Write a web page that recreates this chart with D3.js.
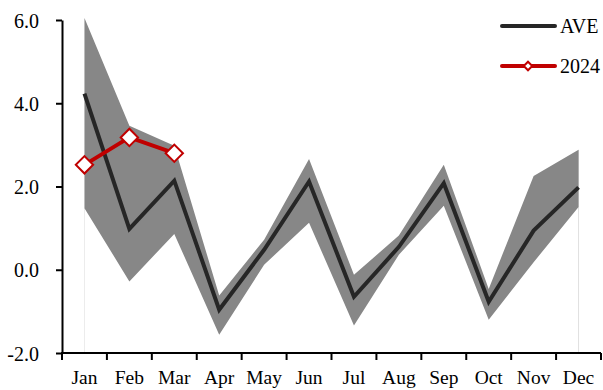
<!DOCTYPE html>
<html>
<head>
<meta charset="utf-8">
<script src="https://cdn.jsdelivr.net/npm/d3@7"></script>
<style>
  html, body { margin: 0; padding: 0; background: #fff; }
  svg, svg text { font-family: "Liberation Serif", "Times New Roman", serif; }
  svg { display: block; }
</style>
</head>
<body>
<svg id="chart" width="603" height="390"></svg>
<script>
// Monthly values: long-term average, min–max envelope, and 2024 to date
const months = ["Jan","Feb","Mar","Apr","May","Jun","Jul","Aug","Sep","Oct","Nov","Dec"];
const aveValues = [4.23, 0.98, 2.14, -0.96, 0.48, 2.12, -0.65, 0.55, 2.08, -0.77, 0.94, 1.98];
const maxValues = [6.05, 3.46, 2.98, -0.62, 0.72, 2.66, -0.12, 0.82, 2.52, -0.46, 2.25, 2.88];
const minValues = [1.48, -0.28, 0.86, -1.56, 0.12, 1.13, -1.34, 0.36, 1.54, -1.20, 0.18, 1.51];
const values2024 = [2.52, 3.18, 2.80];
const yTicks = [-2, 0, 2, 4, 6];

const svg = d3.select("#chart");
const plotLeft = 62, plotRight = 601, plotTop = 20, plotBottom = 353;
const serif = '"Liberation Serif", "Times New Roman", serif';

const x = d3.scaleBand().domain(months).range([plotLeft, plotRight]).paddingInner(0).paddingOuter(0);
const y = d3.scaleLinear().domain([-2, 6]).range([plotBottom, plotTop]);
const cx = m => x(m) + x.bandwidth() / 2;

// faint drop lines at the ends of the envelope
svg.append("line")
  .attr("x1", cx("Jan")).attr("x2", cx("Jan"))
  .attr("y1", y(minValues[0])).attr("y2", y(-2))
  .attr("stroke", "#ececec").attr("stroke-width", 1);
svg.append("line")
  .attr("x1", cx("Dec")).attr("x2", cx("Dec"))
  .attr("y1", y(maxValues[11])).attr("y2", y(-2))
  .attr("stroke", "#e0e0e0").attr("stroke-width", 1);

// min–max envelope
const band = months.map((m, i) => ({ m, lo: minValues[i], hi: maxValues[i] }));
svg.append("path")
  .datum(band)
  .attr("fill", "#878787")
  .attr("d", d3.area().x(d => cx(d.m)).y0(d => y(d.lo)).y1(d => y(d.hi)));

// average line
svg.append("path")
  .datum(months.map((m, i) => ({ m, v: aveValues[i] })))
  .attr("fill", "none")
  .attr("stroke", "#262626")
  .attr("stroke-width", 4)
  .attr("stroke-linejoin", "miter")
  .attr("d", d3.line().x(d => cx(d.m)).y(d => y(d.v)));

// 2024 line with diamond markers
const cur = values2024.map((v, i) => ({ m: months[i], v }));
svg.append("path")
  .datum(cur)
  .attr("fill", "none")
  .attr("stroke", "#c00000")
  .attr("stroke-width", 4)
  .attr("d", d3.line().x(d => cx(d.m)).y(d => y(d.v)));

svg.selectAll(".mk")
  .data(cur)
  .join("path")
  .attr("class", "mk")
  .attr("transform", d => `translate(${cx(d.m)},${y(d.v)}) rotate(45)`)
  .attr("d", d3.symbol().type(d3.symbolSquare).size(150))
  .attr("fill", "#fff")
  .attr("stroke", "#c00000")
  .attr("stroke-width", 2);

// axes
const yAxis = svg.append("g")
  .attr("transform", `translate(${plotLeft},0)`)
  .call(d3.axisLeft(y).tickValues(yTicks).tickSize(6).tickSizeOuter(0).tickFormat(d => d.toFixed(1)))
  .attr("font-family", serif)
  .attr("font-size", 20);
yAxis.select(".domain").attr("stroke", "#000").attr("stroke-width", 2);
yAxis.selectAll(".tick line").attr("stroke", "#000").attr("stroke-width", 2);
yAxis.selectAll(".tick text")
  .attr("x", -23)
  .attr("dy", "0.36em")
  .attr("fill", "#000");

const xAxis = svg.append("g")
  .attr("transform", `translate(0,${plotBottom})`)
  .attr("font-family", serif)
  .attr("font-size", 19.5);
xAxis.append("line")
  .attr("x1", plotLeft - 1).attr("x2", plotRight)
  .attr("stroke", "#000").attr("stroke-width", 2);
const bounds = months.map(m => x(m)).concat([plotRight]);
xAxis.selectAll(".xt")
  .data(bounds)
  .join("line")
  .attr("class", "xt")
  .attr("x1", d => d).attr("x2", d => d)
  .attr("y1", 0).attr("y2", 7)
  .attr("stroke", "#000").attr("stroke-width", 2);
xAxis.selectAll(".xl")
  .data(months)
  .join("text")
  .attr("class", "xl")
  .attr("x", d => cx(d))
  .attr("y", 31)
  .attr("text-anchor", "middle")
  .attr("fill", "#000")
  .text(d => d);

// legend
const legend = svg.append("g")
  .attr("font-family", serif)
  .attr("font-size", 20);
const legendItems = [
  { label: "AVE", color: "#262626", marker: false, yPos: 26 },
  { label: "2024", color: "#c00000", marker: true, yPos: 66 }
];
legendItems.forEach(it => {
  legend.append("line")
    .attr("x1", 502).attr("x2", 555)
    .attr("y1", it.yPos).attr("y2", it.yPos)
    .attr("stroke", it.color).attr("stroke-width", 4)
    .attr("stroke-linecap", "round");
  if (it.marker) {
    legend.append("path")
      .attr("transform", `translate(528,${it.yPos}) rotate(45)`)
      .attr("d", d3.symbol().type(d3.symbolSquare).size(36))
      .attr("fill", "#fff")
      .attr("stroke", it.color)
      .attr("stroke-width", 2);
  }
  legend.append("text")
    .attr("x", 560).attr("y", it.yPos)
    .attr("dy", "0.35em")
    .attr("fill", "#000")
    .text(it.label);
});
</script>
</body>
</html>
